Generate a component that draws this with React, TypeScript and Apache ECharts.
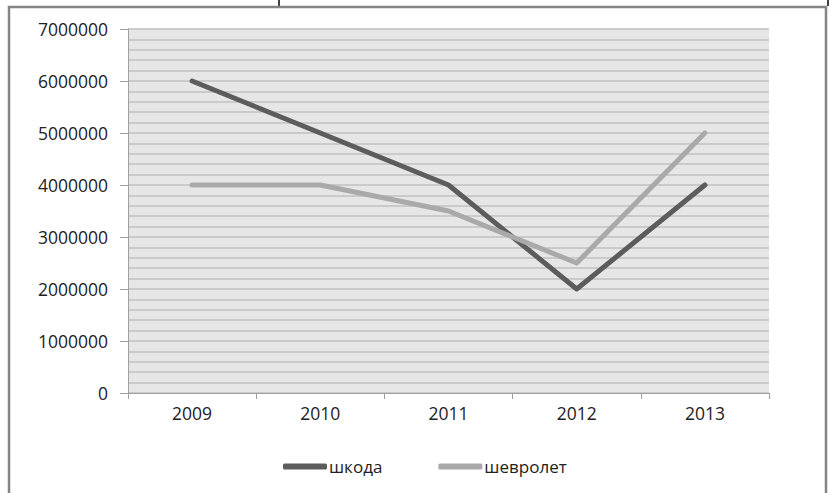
import React, { useEffect, useRef } from "react";
import * as echarts from "echarts";

const years = ["2009", "2010", "2011", "2012", "2013"];
const skoda = [6000000, 5000000, 4000000, 2000000, 4000000];
const chevrolet = [4000000, 4000000, 3500000, 2500000, 5000000];
const seriesNames = ["шкода", "шевролет"];

const FONT = "'Open Sans', sans-serif";

export default function App() {
  const ref = useRef<HTMLDivElement>(null);
  useEffect(() => {
    if (!ref.current) return;
    const chart = echarts.init(ref.current, null, { renderer: "svg" });
    chart.setOption({
      animation: false,
      backgroundColor: "#ffffff",
      textStyle: { fontFamily: FONT },
      grid: {
        left: 128,
        top: 29,
        right: 61,
        bottom: 100,
        show: true,
        backgroundColor: "#e6e6e6",
        borderWidth: 0,
      },
      legend: {
        left: 283,
        top: 458,
        padding: 0,
        icon: "roundRect",
        itemWidth: 44,
        itemHeight: 6,
        itemGap: 56,
        textStyle: { fontFamily: FONT, fontSize: 17, color: "#222", padding: [0, 0, 0, -3] },
        data: seriesNames,
      },
      xAxis: {
        type: "category",
        data: years,
        boundaryGap: true,
        axisLine: { show: true, lineStyle: { color: "#a0a0a0", width: 1 } },
        axisTick: { show: true, length: 6, lineStyle: { color: "#a0a0a0" } },
        axisLabel: { fontFamily: FONT, fontSize: 17.5, color: "#222", margin: 11 },
        splitLine: { show: false },
      },
      yAxis: {
        type: "value",
        min: 0,
        max: 7000000,
        interval: 1000000,
        axisLine: { show: true, lineStyle: { color: "#a0a0a0", width: 1 } },
        axisTick: { show: true, length: 8, lineStyle: { color: "#a0a0a0" } },
        axisLabel: {
          fontFamily: FONT,
          fontSize: 17.5,
          color: "#222",
          margin: 20,
          formatter: (v: number) => String(v),
        },
        splitLine: { show: true, lineStyle: { color: "#c0c0c0", width: 1.5 } },
        minorTick: { show: false, splitNumber: 5 },
        minorSplitLine: { show: true, lineStyle: { color: "#c0c0c0", width: 1.5 } },
      },
      series: [
        {
          name: seriesNames[0],
          type: "line",
          data: skoda,
          symbol: "none",
          color: "#5c5c5c",
          lineStyle: { width: 5, cap: "round", join: "round", color: "#5c5c5c" },
        },
        {
          name: seriesNames[1],
          type: "line",
          data: chevrolet,
          symbol: "none",
          color: "#a9a9a9",
          lineStyle: { width: 5, cap: "round", join: "round", color: "#a9a9a9" },
        },
      ],
      graphic: [
        {
          type: "polyline",
          shape: { points: [[9, 500], [9, 7], [826, 7], [826, 500]] },
          style: { stroke: "#858585", lineWidth: 2.5, fill: "none" },
          z: 100,
        },
        {
          type: "line",
          shape: { x1: 279, y1: 0, x2: 279, y2: 6 },
          style: { stroke: "#000", lineWidth: 1.5 },
        },
        {
          type: "line",
          shape: { x1: 828, y1: 0, x2: 828, y2: 6 },
          style: { stroke: "#000", lineWidth: 1.5 },
        },
      ],
    });
    return () => chart.dispose();
  }, []);
  return (
    <div
      ref={ref}
      style={{ position: "fixed", left: 0, top: 0, width: 830, height: 493 }}
    />
  );
}
